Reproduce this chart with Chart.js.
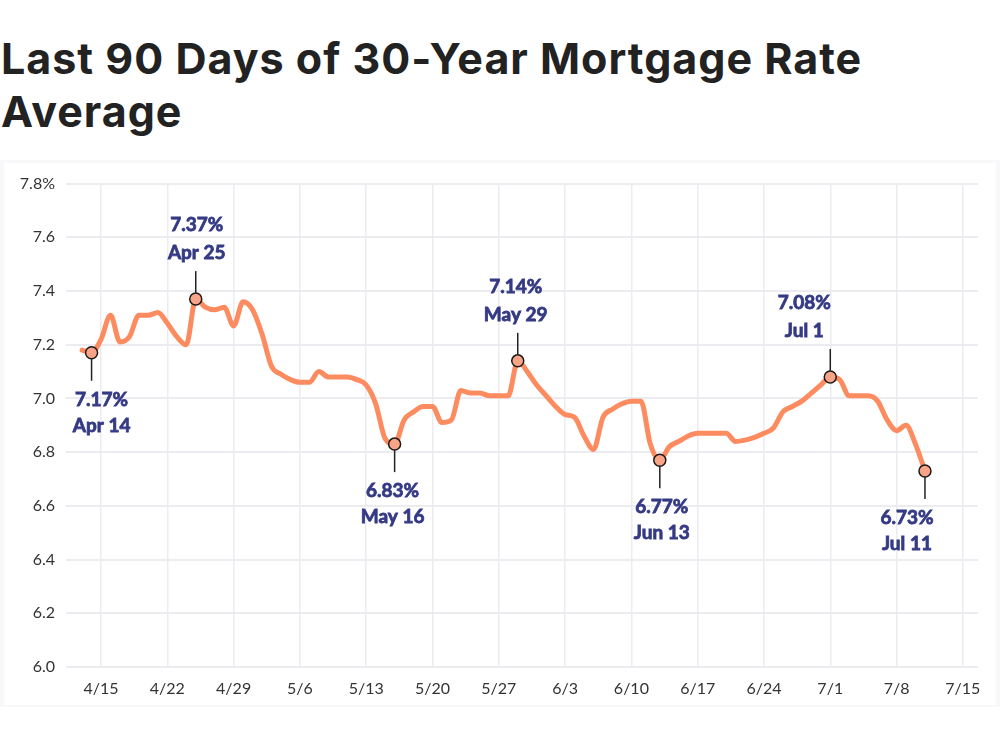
<!DOCTYPE html>
<html>
<head>
<meta charset="utf-8">
<script src="https://cdn.jsdelivr.net/npm/chart.js@4.4.1/dist/chart.umd.min.js"></script>
<style>
  body { margin: 0; background: #fff; width: 1000px; height: 748px; overflow: hidden; }
  h1 {
    position: absolute; left: 1px; top: 32px; margin: 0; width: 960px;
    font-family: Inter, "Noto Sans", sans-serif; font-weight: 700;
    font-size: 43px; line-height: 53px; color: #222; letter-spacing: 1px;
  }
  #panel {
    position: absolute; left: 0; top: 160px; width: 1000px; height: 547px;
    background: #f8f8fa;
  }
  #wrap {
    position: absolute; left: 4px; top: 3px; width: 992px; height: 542px; background: #fff;
  }
</style>
</head>
<body>
<h1>Last 90 Days of 30-Year Mortgage Rate Average</h1>
<div id="panel"><div id="wrap"><canvas id="rate_chart"></canvas></div></div>
<script>
// daily 30-year rate average, 4/13 .. 7/11
const startDate = "4/13";
const rates = [
  7.18, 7.17, 7.22, 7.31, 7.21, 7.23, 7.31, 7.31, 7.32, 7.28, 7.23, 7.20, 7.37, 7.34, 7.33, 7.34, 7.27, 7.36,
  7.33, 7.24, 7.12, 7.09, 7.07, 7.06, 7.06, 7.10, 7.08, 7.08, 7.08, 7.07, 7.05, 6.98, 6.85, 6.83,
  6.92, 6.95, 6.97, 6.97, 6.91, 6.92, 7.03, 7.02, 7.02, 7.01, 7.01, 7.01, 7.14, 7.10, 7.05,
  7.01, 6.97, 6.94, 6.93, 6.86, 6.81, 6.93, 6.96, 6.98, 6.99, 6.99, 6.83, 6.77, 6.82, 6.84, 6.86,
  6.87, 6.87, 6.87, 6.87, 6.84, 6.845, 6.855, 6.87, 6.89, 6.95, 6.97, 6.99, 7.02, 7.05,
  7.08, 7.07, 7.01, 7.01, 7.01, 6.99, 6.92, 6.88, 6.90, 6.83, 6.73
];
const xTickLabels = ["4/15", "4/22", "4/29", "5/6", "5/13", "5/20", "5/27", "6/3", "6/10", "6/17", "6/24", "7/1", "7/8", "7/15"];
const yTicks = [6.0, 6.2, 6.4, 6.6, 6.8, 7.0, 7.2, 7.4, 7.6, 7.8];

// highlighted points
const hlDates = ["4/14", "4/25", "5/16", "5/29", "6/13", "7/1", "7/11"];
const hlValues = [7.17, 7.37, 6.83, 7.14, 6.77, 7.08, 6.73];
const hlNames = ["Apr 14", "Apr 25", "May 16", "May 29", "Jun 13", "Jul 1", "Jul 11"];

// label placement (px): side 1 = below, -1 = above; dx shift of text
const hlLayout = [
  { side: 1, dx: 10 }, { side: -1, dx: 1 }, { side: 1, dx: -2 }, { side: -1, dx: -2 },
  { side: 1, dx: 2 }, { side: -1, dx: -26 }, { side: 1, dx: -18 }
];

function dayOf(md) {
  let p = md.split("/");
  let d = new Date(2024, parseInt(p[0]) - 1, parseInt(p[1]));
  return Math.round((d - new Date(2024, 3, 15)) / 86400000);
}

let start = dayOf(startDate);
let linePts = [];
for (let i = 0; i < rates.length; i++) {
  linePts.push({ x: start + i, y: rates[i] });
}
let hlPts = [];
for (let i = 0; i < hlDates.length; i++) {
  hlPts.push({ x: dayOf(hlDates[i]), y: hlValues[i] });
}
let tickDays = xTickLabels.map(dayOf);

const labelColor = "#353a84";

function boldText(ctx, txt, x, y) {
  ctx.fillText(txt, x, y);
  ctx.strokeText(txt, x, y);
}

const calloutPlugin = {
  id: "callouts",
  afterDatasetsDraw(chart) {
    const ctx = chart.ctx;
    const xs = chart.scales.x, ys = chart.scales.y;
    ctx.save();
    for (let i = 0; i < hlPts.length; i++) {
      let px = xs.getPixelForValue(hlPts[i].x);
      let py = ys.getPixelForValue(hlPts[i].y);
      let s = hlLayout[i].side;
      ctx.strokeStyle = "#222";
      ctx.lineWidth = 1.5;
      ctx.beginPath();
      ctx.moveTo(px, py + s * 6);
      ctx.lineTo(px, py + s * 28);
      ctx.stroke();
      ctx.fillStyle = labelColor;
      ctx.strokeStyle = labelColor;
      ctx.lineWidth = 0.8;
      ctx.font = "bold 19px Lato, 'Open Sans', sans-serif";
      ctx.textAlign = "center";
      ctx.textBaseline = "middle";
      let tx = px + hlLayout[i].dx;
      let valTxt = hlValues[i].toFixed(2) + "%";
      if (s > 0) {
        boldText(ctx, valTxt, tx, py + 47);
        boldText(ctx, hlNames[i], tx, py + 73);
      } else {
        boldText(ctx, valTxt, tx, py - 74);
        boldText(ctx, hlNames[i], tx, py - 46);
      }
    }
    ctx.restore();
  }
};

let rate_chart = document.getElementById("rate_chart");
let rateChart = new Chart(rate_chart, {
  type: "line",
  data: {
    datasets: [
      {
        label: "Highlights",
        data: hlPts,
        showLine: false,
        pointRadius: 6,
        pointBackgroundColor: "#f9a486",
        pointBorderColor: "#1a1a1a",
        pointBorderWidth: 1.5,
        order: 0,
      },
      {
        label: "30-Year Rate",
        data: linePts,
        borderColor: "#fd8b60",
        borderWidth: 5,
        pointRadius: 0,
        cubicInterpolationMode: "monotone",
        borderCapStyle: "round",
        borderJoinStyle: "round",
        order: 1,
      },
    ],
  },
  options: {
    responsive: true,
    maintainAspectRatio: false,
    animation: false,
    layout: { padding: { top: 20, right: 18, bottom: 0, left: 0 } },
    plugins: {
      legend: { display: false },
      tooltip: { enabled: false },
    },
    scales: {
      x: {
        type: "linear",
        min: -3.7,
        max: 92.6,
        afterBuildTicks: (scale) => {
          scale.ticks = tickDays.map((v) => ({ value: v }));
        },
        afterFit: (scale) => {
          scale.height = 38;
        },
        ticks: {
          callback: (v) => xTickLabels[tickDays.indexOf(v)],
          color: "#333",
          font: { family: "Lato, 'Open Sans', sans-serif", size: 16 },
          padding: 12,
          maxRotation: 0,
          autoSkip: false,
        },
        grid: { color: "#ebebf0", lineWidth: 1.5, drawTicks: false },
        border: { display: false },
      },
      y: {
        min: 6.0,
        max: 7.8,
        afterBuildTicks: (scale) => {
          scale.ticks = yTicks.map((v) => ({ value: v }));
        },
        afterFit: (scale) => {
          scale.width = 62;
        },
        ticks: {
          callback: (v) => (v === 7.8 ? v.toFixed(1) + "%" : v.toFixed(1)),
          color: "#333",
          font: { family: "Lato, 'Open Sans', sans-serif", size: 16 },
          padding: 11,
        },
        grid: { color: "#ebebf0", lineWidth: 2, drawTicks: false },
        border: { display: false },
      },
    },
  },
  plugins: [calloutPlugin],
});
</script>
</body>
</html>
